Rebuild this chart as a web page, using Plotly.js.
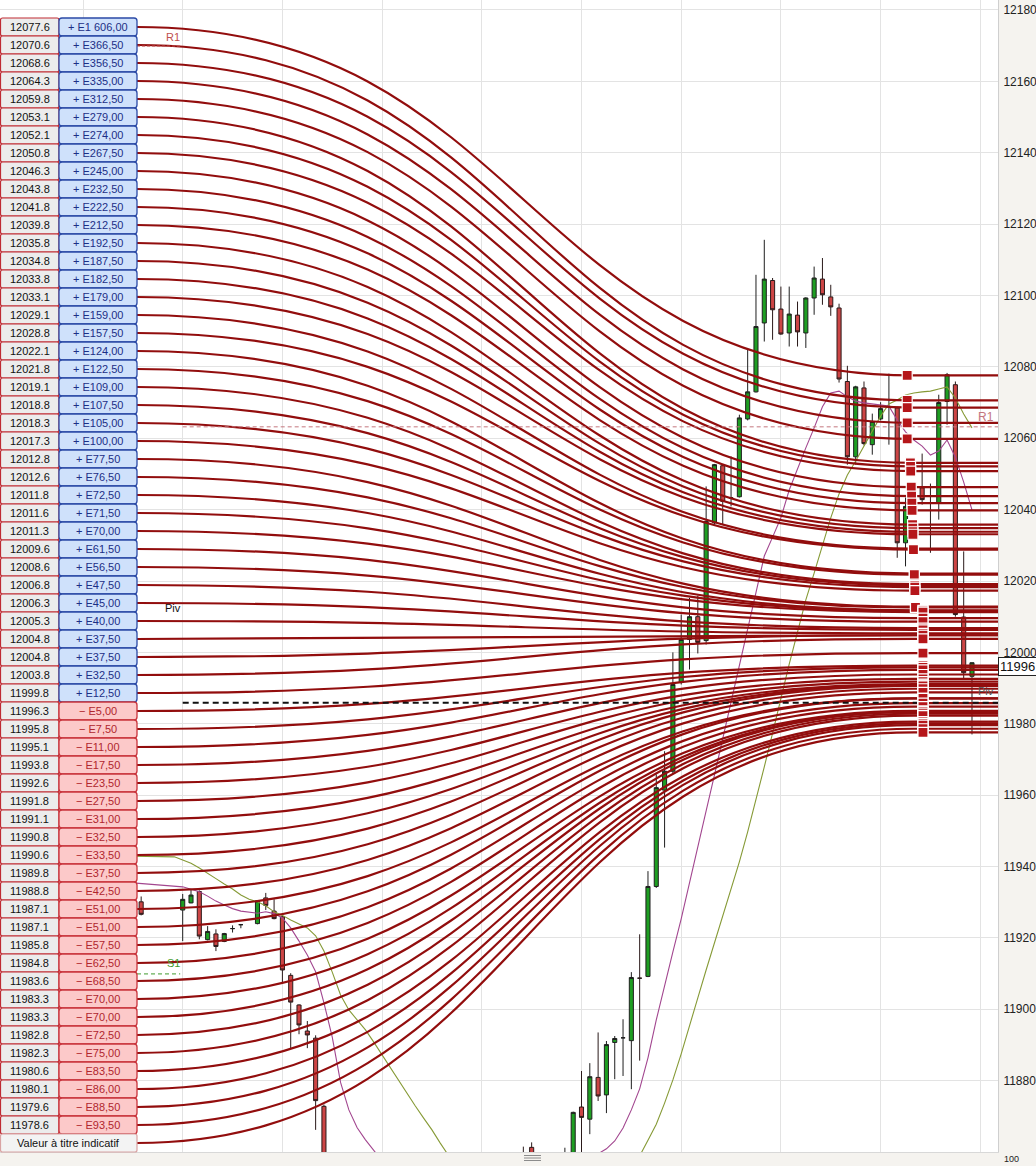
<!DOCTYPE html>
<html><head><meta charset="utf-8">
<script src="https://cdn.plot.ly/plotly-3.0.1.min.js"></script>
<style>html,body{margin:0;padding:0;background:#f5f3ef;}#chart{width:1036px;height:1166px;}</style>
</head><body><div id="chart"></div>
<script>
// ---------------- DATA ----------------
const levelPrices = [12077.6,12070.6,12068.6,12064.3,12059.8,12053.1,12052.1,12050.8,12046.3,12043.8,12041.8,12039.8,12035.8,12034.8,12033.8,12033.1,12029.1,12028.8,12022.1,12021.8,12019.1,12018.8,12018.3,12017.3,12012.8,12012.6,12011.8,12011.6,12011.3,12009.6,12008.6,12006.8,12006.3,12005.3,12004.8,12004.8,12003.8,11999.8,11996.3,11995.8,11995.1,11993.8,11992.6,11991.8,11991.1,11990.8,11990.6,11989.8,11988.8,11987.1,11987.1,11985.8,11984.8,11983.6,11983.3,11983.3,11982.8,11982.3,11980.6,11980.1,11979.6,11978.6];
const levelPnl = ["+ E1 606,00","+ E366,50","+ E356,50","+ E335,00","+ E312,50","+ E279,00","+ E274,00","+ E267,50","+ E245,00","+ E232,50","+ E222,50","+ E212,50","+ E192,50","+ E187,50","+ E182,50","+ E179,00","+ E159,00","+ E157,50","+ E124,00","+ E122,50","+ E109,00","+ E107,50","+ E105,00","+ E100,00","+ E77,50","+ E76,50","+ E72,50","+ E71,50","+ E70,00","+ E61,50","+ E56,50","+ E47,50","+ E45,00","+ E40,00","+ E37,50","+ E37,50","+ E32,50","+ E12,50","− E5,00","− E7,50","− E11,00","− E17,50","− E23,50","− E27,50","− E31,00","− E32,50","− E33,50","− E37,50","− E42,50","− E51,00","− E51,00","− E57,50","− E62,50","− E68,50","− E70,00","− E70,00","− E72,50","− E75,00","− E83,50","− E86,00","− E88,50","− E93,50"];
const footerText = "Valeur à titre indicatif";
const footerLevel = 11977.6;

const barIndex = [0,5,6,7,8,9,10,11,12,14,15,16,17,18,19,20,21,22,46,47,51,52,53,54,55,56,57,58,59,60,61,62,63,64,65,66,67,68,69,70,71,72,73,74,75,76,77,78,79,80,81,82,83,84,85,86,87,88,89,90,91,92,94,95,96,97,98,99,100];
const barOpen  = [11930.1,11927.8,11929.8,11933.0,11919.5,11921.1,11919.0,11922.6,11923.7,11924.0,11931.2,11927.5,11925.9,11909.5,11901.2,11893.9,11891.9,11872.8,11856.0,11861.3,11852.0,11856.0,11872.6,11869.2,11880.9,11876.0,11890.7,11892.0,11891.2,11908.7,11909.2,11934.4,11961.4,11966.7,11991.6,12003.6,12010.0,12003.3,12036.3,12052.3,12043.3,12043.6,12065.4,12073.0,12092.3,12104.2,12096.2,12089.5,12094.5,12089.5,12099.3,12104.6,12099.6,12096.5,12075.9,12054.8,12074.1,12058.2,12065.4,12068.9,12068.5,12030.7,12046.1,12041.9,12041.9,12070.3,12075.0,12009.9,11993.3];
const barHigh  = [11931.6,11932.3,11933.6,11933.3,11923.3,11922.4,11921.4,11923.5,11923.9,11930.6,11932.6,11930.8,11926.1,11910.1,11901.4,11896.7,11892.7,11873.3,11861.5,11862.7,11861.2,11871.3,11882.7,11884.9,11893.5,11891.1,11892.5,11897.2,11910.4,11921.0,11938.7,11965.8,11972.3,12000.0,12010.6,12015.3,12015.9,12046.5,12052.8,12052.6,12054.9,12066.6,12084.8,12105.8,12115.6,12104.9,12102.5,12102.5,12098.3,12099.5,12108.1,12110.5,12103.0,12097.7,12080.3,12074.7,12075.9,12066.9,12070.1,12078.1,12068.8,12043.4,12055.7,12047.3,12072.2,12078.3,12075.9,12028.3,11997.2];
const barLow   = [11926.3,11919.1,11929.7,11919.6,11919.3,11916.3,11918.8,11921.5,11922.7,11923.8,11927.8,11925.2,11907.3,11889.0,11893.0,11889.1,11866.2,11845.0,11848.0,11852.0,11848.0,11852.0,11855.0,11865.0,11874.3,11870.9,11880.4,11881.3,11877.6,11885.6,11909.0,11934.0,11945.3,11966.0,11991.0,11995.2,11999.7,12002.2,12035.8,12035.8,12040.9,12043.4,12065.0,12072.8,12087.1,12087.6,12089.0,12085.7,12085.7,12085.3,12094.6,12097.4,12094.3,12075.6,12052.6,12052.6,12058.0,12055.4,12065.0,12058.2,12026.5,12024.1,12041.4,12027.9,12037.2,12063.8,12010.0,11992.4,11977.0];
const barClose = [11926.6,11930.8,11932.0,11920.5,11921.8,11917.6,11921.2,11922.6,11923.7,11930.4,11929.1,11925.4,11911.0,11902.0,11895.6,11892.8,11874.4,11850.0,11853.0,11858.0,11856.0,11871.1,11869.7,11881.1,11875.7,11890.1,11891.8,11892.0,11908.9,11908.7,11934.4,11962.1,11966.7,11991.0,12003.6,12010.0,12002.8,12036.7,12052.6,12042.3,12043.3,12065.7,12073.0,12091.3,12104.6,12096.0,12089.2,12094.8,12089.8,12099.3,12104.9,12100.2,12096.8,12076.6,12054.8,12074.4,12058.5,12064.7,12068.3,12068.9,12030.7,12040.9,12042.8,12041.9,12070.0,12077.8,12010.6,11994.3,11997.1];

const maFastX = [-1,0,2,4,5,6,7,8,9,10,11,12,13,14,15,16,17,18,19,20,21,22,23,24,25,26,27,28,29,null,54,55,56,57,58,59,60,61,62,63,64,65,66,67,68,69,70,71,72,73,74,75,76,77,78,79,80,81,82,83,84,85,86,87,88,89,90,91,92,93,94,95,96,97,98,99,100];
const maFastY = [11935.4,11935.2,11934.9,11934.5,11934.3,11933.6,11932.9,11931.7,11930.3,11929.2,11928.2,11927.5,11927.1,11926.9,11927.3,11926.8,11925.6,11922.8,11919.1,11915.2,11910.5,11901.8,11892.2,11879.5,11871.8,11866.8,11863.4,11860.6,11857.5,null,11857.0,11859.5,11860.9,11863.1,11866.7,11871.8,11877.7,11886.4,11897.0,11906.8,11916.1,11925.3,11935.1,11945.2,11955.6,11965.6,11975.9,11986.1,11996.2,12006.4,12016.6,12027.0,12032.3,12037.7,12045.5,12051.7,12057.3,12062.9,12068.8,12072.7,12073.2,12071.6,12070.4,12069.9,12069.6,12069.3,12069.0,12065.1,12061.8,12059.5,12057.8,12055.3,12056.4,12059.5,12054.7,12047.7,12039.9];
const maSlowX = [-1,0,4,5,6,7,8,9,10,11,12,13,14,15,16,17,18,19,20,21,22,23,24,25,26,27,28,29,30,31,32,33,34,35,36,37,38,null,59,60,61,62,63,64,65,66,67,68,69,70,71,72,73,74,75,76,77,78,79,80,81,82,83,84,85,86,87,88,89,90,91,92,93,94,95,96,97,98,99,100];
const maSlowY = [11942.9,11942.9,11942.7,11941.8,11940.9,11939.6,11938.0,11936.6,11935.1,11933.7,11932.0,11930.8,11930.1,11929.0,11927.3,11926.3,11925.0,11923.9,11922.8,11920.6,11916.3,11910.4,11904.0,11899.8,11897.0,11894.2,11890.8,11887.2,11883.5,11880.2,11876.5,11872.9,11869.5,11866.2,11862.5,11858.9,11855.5,null,11855.0,11858.9,11863.3,11867.8,11873.7,11880.2,11887.5,11895.6,11903.2,11911.0,11918.6,11926.1,11933.7,11941.3,11949.7,11958.6,11967.9,11977.4,11987.2,11996.7,12005.7,12014.7,12022.2,12030.1,12037.7,12044.4,12049.7,12053.6,12057.8,12062.3,12066.2,12069.6,12070.7,12072.1,12072.7,12073.0,12073.2,12073.8,12074.4,12071.3,12066.8,12062.9];

const prevPivotNames = ["R1","Piv","S1"];
const prevPivotLevels = [12169.9, 12009.6, 11909.9];
const todayPivotNames = ["R1","Piv"];
const todayPivotLevels = [12063.2, 11985.9];
const lastPrice = 11996;
const yTickVals = [11880,11900,11920,11940,11960,11980,12000,12020,12040,12060,12080,12100,12120,12140,12160,12180];
const yTickText = yTickVals.map(String);

// ---------------- GEOMETRY ----------------
const PW = 998, PH = 1152;
const yTop = 12182.8, yBot = 11860;
const xLeft = -16.99, xRight = 103.13;
const pxToPrice = py => yTop - py * (yTop - yBot) / PH;
const pxToK = px => xLeft + px * (xRight - xLeft) / PW;
const X = px => px / PW, Y = py => 1 - py / PH;
const rowH = 18, rowTop0 = 18;

const shapes = [];
const annotations = [];
const FONT = "Liberation Sans, Arial, sans-serif";

// curves
const ks = pxToK(137), ke = 93.0, km = (ks + ke) / 2, kEnd = xRight + 1;
const curveColor = "#920d0d";
function addCurve(rowIdx, level) {
  const y0 = pxToPrice(rowTop0 + rowH * rowIdx + rowH / 2);
  shapes.push({type: "path", xref: "x", yref: "y", layer: "above",
    path: `M ${ks},${y0} C ${km},${y0} ${km},${level} ${ke},${level} L ${kEnd},${level}`,
    line: {color: curveColor, width: 2.2}});
}
levelPrices.forEach((lv, i) => addCurve(i, lv));
addCurve(levelPrices.length, footerLevel);

// pivot lines
const kDayStart = 5;
shapes.push({type: "line", xref: "x", yref: "y", layer: "above", x0: kDayStart, x1: kEnd, y0: todayPivotLevels[0], y1: todayPivotLevels[0], line: {color: "#c4767e", width: 1, dash: "4px,3px"}});
shapes.push({type: "line", xref: "x", yref: "y", layer: "above", x0: kDayStart, x1: kEnd, y0: todayPivotLevels[1], y1: todayPivotLevels[1], line: {color: "#111", width: 2, dash: "6px,4px"}});
shapes.push({type: "line", xref: "x", yref: "y", layer: "above", x0: pxToK(137), x1: kDayStart - 0.3, y0: prevPivotLevels[0], y1: prevPivotLevels[0], line: {color: "#c0504d", width: 1, dash: "3px,2px"}});
shapes.push({type: "line", xref: "x", yref: "y", layer: "above", x0: pxToK(137), x1: kDayStart - 0.3, y0: prevPivotLevels[2], y1: prevPivotLevels[2], line: {color: "#3f9a2c", width: 1, dash: "4px,3px"}});

// squares
function squareK(level) {
  if (level >= 12059) return 92.2;
  if (level >= 12012.5) return 92.5 + (12059 - level) / 46.5 * 0.7;
  return 94.1;
}
levelPrices.concat([footerLevel]).forEach(lv => {
  shapes.push({type: "rect", xref: "x", yref: "y", layer: "above", xsizemode: "pixel", ysizemode: "pixel",
    xanchor: squareK(lv), yanchor: lv, x0: -5, x1: 5, y0: -5, y1: 5,
    fillcolor: "#b5161a", line: {color: "#ffffff", width: 1.2}});
});

// table
function rr(x0, y0, x1, y1, r) {
  const p = (a, b) => `${X(a)},${Y(b)}`;
  return `M ${p(x0 + r, y0)} L ${p(x1 - r, y0)} Q ${p(x1, y0)} ${p(x1, y0 + r)} L ${p(x1, y1 - r)} Q ${p(x1, y1)} ${p(x1 - r, y1)} L ${p(x0 + r, y1)} Q ${p(x0, y1)} ${p(x0, y1 - r)} L ${p(x0, y0 + r)} Q ${p(x0, y0)} ${p(x0 + r, y0)} Z`;
}
levelPrices.forEach((lv, i) => {
  const t = rowTop0 + rowH * i, b = t + rowH;
  const pos = levelPnl[i].charAt(0) === "+";
  shapes.push({type: "path", xref: "paper", yref: "paper", layer: "above", path: rr(0.5, t, 59, b, 2),
    fillcolor: "#ececec", line: {color: "#bf2b33", width: 1.2}});
  shapes.push({type: "path", xref: "paper", yref: "paper", layer: "above", path: rr(59, t, 137, b, 3),
    fillcolor: pos ? "#cfe1fb" : "#fcc9c9", line: {color: pos ? "#2b4aa6" : "#c9343c", width: 1.3}});
  annotations.push({xref: "paper", yref: "paper", x: X(29.5), y: Y(t + rowH / 2), text: lv.toFixed(1), showarrow: false,
    font: {family: FONT, size: 11, color: "#111"}, xanchor: "center", yanchor: "middle"});
  annotations.push({xref: "paper", yref: "paper", x: X(98), y: Y(t + rowH / 2), text: levelPnl[i], showarrow: false,
    font: {family: FONT, size: 11, color: pos ? "#1c2f86" : "#b0262d"}, xanchor: "center", yanchor: "middle"});
});
{
  const t = rowTop0 + rowH * levelPrices.length, b = t + rowH;
  shapes.push({type: "path", xref: "paper", yref: "paper", layer: "above", path: rr(0.5, t, 137, b, 2),
    fillcolor: "#f3f3f3", line: {color: "#d9a3a3", width: 1.2}});
  annotations.push({xref: "paper", yref: "paper", x: X(68), y: Y(t + rowH / 2), text: footerText, showarrow: false,
    font: {family: FONT, size: 11, color: "#111"}, xanchor: "center", yanchor: "middle"});
}

// scroll handle in bottom strip
[1155.5, 1158, 1160.5].forEach(py => shapes.push({type: "line", xref: "paper", yref: "paper", layer: "above",
  x0: X(524), x1: X(541), y0: Y(py), y1: Y(py), line: {color: "#8c8c8c", width: 1}}));

// pivot labels
function pivLabel(px, level, shift, text, size, color) {
  annotations.push({xref: "paper", yref: "y", x: X(px), xanchor: "center", y: level, yanchor: "middle", yshift: shift,
    text: text, showarrow: false, font: {family: FONT, size: size, color: color}});
}
pivLabel(173, prevPivotLevels[0], 9, prevPivotNames[0], 11, "#c0504d");
pivLabel(173, prevPivotLevels[1], 10, prevPivotNames[1], 11, "#111");
pivLabel(173, prevPivotLevels[2], 11, prevPivotNames[2], 11, "#3f9a2c");
pivLabel(986, todayPivotLevels[0], 10, todayPivotNames[0], 12, "#c4767e");
pivLabel(986, todayPivotLevels[1], 12, todayPivotNames[1], 11, "#555");

// last price box and next-panel label
annotations.push({xref: "paper", yref: "y", x: 1, xanchor: "left", y: lastPrice, yanchor: "middle", text: String(lastPrice),
  showarrow: false, bgcolor: "#ffffff", bordercolor: "#222", borderwidth: 1, borderpad: 1, align: "left",
  font: {family: FONT, size: 13, color: "#111"}});
annotations.push({xref: "paper", yref: "paper", x: 1, xanchor: "left", xshift: 4, y: Y(1166), yanchor: "bottom", text: "100",
  showarrow: false, font: {family: FONT, size: 9, color: "#222"}});

// ---------------- TRACES ----------------
const traces = [
  {type: "scatter", mode: "lines", x: maSlowX, y: maSlowY, line: {color: "#869a36", width: 1.1}, connectgaps: false, hoverinfo: "skip"},
  {type: "scatter", mode: "lines", x: maFastX, y: maFastY, line: {color: "#a2468f", width: 1.1}, connectgaps: false, hoverinfo: "skip"},
  {type: "candlestick", x: barIndex, open: barOpen, high: barHigh, low: barLow, close: barClose,
    increasing: {line: {color: "#1f1f1f", width: 1}, fillcolor: "#1e9e22"},
    decreasing: {line: {color: "#2a1a1a", width: 1}, fillcolor: "#cc4545"},
    whiskerwidth: 0, hoverinfo: "skip"}
];

const layout = {
  width: 1036, height: 1166,
  margin: {l: 0, r: 1036 - PW, t: 0, b: 1166 - PH, pad: 0},
  paper_bgcolor: "#f5f3ef", plot_bgcolor: "#ffffff",
  showlegend: false,
  xaxis: {range: [xLeft, xRight], tickmode: "linear", tick0: 5, dtick: 12, showticklabels: false, ticks: "",
    showgrid: true, gridcolor: "#e3e3e3", gridwidth: 1, zeroline: false, showline: true, linecolor: "#d8d8d8",
    rangeslider: {visible: false}, fixedrange: true, automargin: false},
  yaxis: {range: [yBot, yTop], side: "right", tickmode: "array", tickvals: yTickVals, ticktext: yTickText, ticks: "",
    ticklabelstandoff: 2, tickfont: {family: FONT, size: 12, color: "#222"},
    showgrid: true, gridcolor: "#e3e3e3", gridwidth: 1, zeroline: false, showline: true, linecolor: "#cfcfcf",
    fixedrange: true, automargin: false},
  shapes: shapes,
  annotations: annotations
};

Plotly.newPlot("chart", traces, layout, {staticPlot: true, displayModeBar: false});
</script></body></html>
